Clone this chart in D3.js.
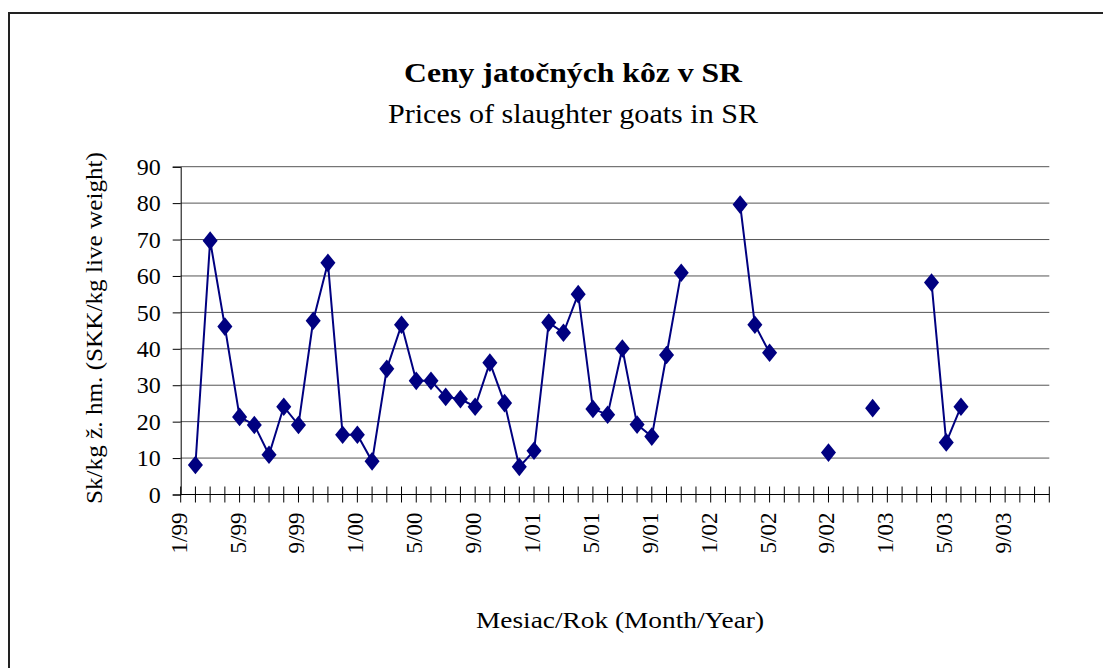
<!DOCTYPE html>
<html>
<head>
<meta charset="utf-8">
<script src="https://cdn.jsdelivr.net/npm/d3@7.9.0/dist/d3.min.js"></script>
<style>
  body { margin: 0; background: #fff; }
  svg { display: block; font-family: "Liberation Serif", "Times New Roman", serif; }
</style>
</head>
<body>
<svg id="chart" width="1103" height="668"></svg>
<script>
// month index 0 = 1/99 ... 59 = 12/03
const monthCount = 60;
const prices = [
  null, 8.1, 69.7, 46.1, 21.3, 19.1, 10.9, 24.1, 19.1, 47.7,
  63.6, 16.4, 16.4, 9.1, 34.5, 46.6, 31.2, 31.2, 26.8, 26.2,
  24.1, 36.2, 25.1, 7.6, 12.0, 47.2, 44.4, 55.0, 23.5, 21.9,
  40.1, 19.2, 15.9, 38.3, 60.9, null, null, null, 79.6, 46.6,
  38.9, null, null, null, 11.5, null, null, 23.7, null, null,
  null, 58.2, 14.3, 24.1, null, null, null, null, null, null
];
const tickLabels = ['1/99', '5/99', '9/99', '1/00', '5/00', '9/00', '1/01', '5/01',
  '9/01', '1/02', '5/02', '9/02', '1/03', '5/03', '9/03'];
const yTicks = [0, 10, 20, 30, 40, 50, 60, 70, 80, 90];

const svg = d3.select('#chart');
const plotL = 180.7, plotR = 1049.3, plotT = 166.7, plotB = 494.5;

// chart frame
svg.append('path')
  .attr('d', `M9,668 V13 H1103`)
  .attr('fill', 'none')
  .attr('stroke', '#222')
  .attr('stroke-width', 2);

let x = d3.scaleLinear().domain([0, monthCount - 1]).range([plotL, plotR]);
let y = d3.scaleLinear().domain([0, 90]).range([plotB, plotT]);

// gridlines
svg.append('g')
  .selectAll('line')
  .data(yTicks.slice(1))
  .join('line')
  .attr('x1', plotL).attr('x2', plotR)
  .attr('y1', (d) => y(d)).attr('y2', (d) => y(d))
  .attr('stroke', '#555')
  .attr('stroke-width', 1);

// y axis
let yAxis = d3.axisLeft(y).tickValues(yTicks).tickSize(8).tickPadding(12).tickFormat(d3.format('d'));
let gy = svg.append('g').attr('transform', `translate(${plotL},0)`).call(yAxis);
gy.select('.domain').attr('stroke', '#000');
gy.selectAll('.tick line').attr('stroke', '#000');
gy.selectAll('text')
  .attr('font-size', 24)
  .attr('font-family', '"Liberation Serif", serif')
  .attr('fill', '#000');

// x axis: month ticks crossing the axis
let gx = svg.append('g');
gx.append('line')
  .attr('x1', plotL).attr('x2', plotR)
  .attr('y1', plotB).attr('y2', plotB)
  .attr('stroke', '#000');
gx.selectAll('.mtick')
  .data(d3.range(monthCount))
  .join('line')
  .attr('class', 'mtick')
  .attr('x1', (d) => x(d)).attr('x2', (d) => x(d))
  .attr('y1', plotB - 8).attr('y2', plotB + 8)
  .attr('stroke', '#000');

gx.selectAll('.mlabel')
  .data(tickLabels)
  .join('text')
  .attr('class', 'mlabel')
  .attr('transform', (d, i) => `translate(${x(i * 4) + 6},${plotB + 18}) rotate(-90)`)
  .attr('text-anchor', 'end')
  .attr('font-size', 23)
  .text((d) => d);

// series line
let line = d3.line()
  .defined((d) => d != null)
  .x((d, i) => x(i))
  .y((d) => y(d));

svg.append('path')
  .datum(prices)
  .attr('d', line)
  .attr('fill', 'none')
  .attr('stroke', '#000080')
  .attr('stroke-width', 2);

let diamond = d3.symbol().type(d3.symbolDiamond).size(100);
svg.append('g')
  .selectAll('path')
  .data(prices.map((v, i) => ({ v, i })).filter((d) => d.v != null))
  .join('path')
  .attr('d', diamond)
  .attr('transform', (d) => `translate(${x(d.i)},${y(d.v)}) scale(1.4,1)`)
  .attr('fill', '#000080');

// titles
svg.append('text')
  .attr('x', 573).attr('y', 82)
  .attr('text-anchor', 'middle')
  .attr('font-size', 28)
  .attr('font-weight', 'bold')
  .attr('textLength', 338)
  .attr('lengthAdjust', 'spacingAndGlyphs')
  .text('Ceny jatočných kôz v SR');

svg.append('text')
  .attr('x', 573).attr('y', 123)
  .attr('text-anchor', 'middle')
  .attr('font-size', 27)
  .attr('textLength', 370)
  .attr('lengthAdjust', 'spacingAndGlyphs')
  .text('Prices of slaughter goats in SR');

svg.append('text')
  .attr('transform', `translate(102,328) rotate(-90)`)
  .attr('text-anchor', 'middle')
  .attr('font-size', 23)
  .attr('textLength', 352)
  .attr('lengthAdjust', 'spacingAndGlyphs')
  .text('Sk/kg ž. hm. (SKK/kg live weight)');

svg.append('text')
  .attr('x', 620).attr('y', 628)
  .attr('text-anchor', 'middle')
  .attr('font-size', 23)
  .attr('textLength', 288)
  .attr('lengthAdjust', 'spacingAndGlyphs')
  .text('Mesiac/Rok (Month/Year)');
</script>
</body>
</html>
